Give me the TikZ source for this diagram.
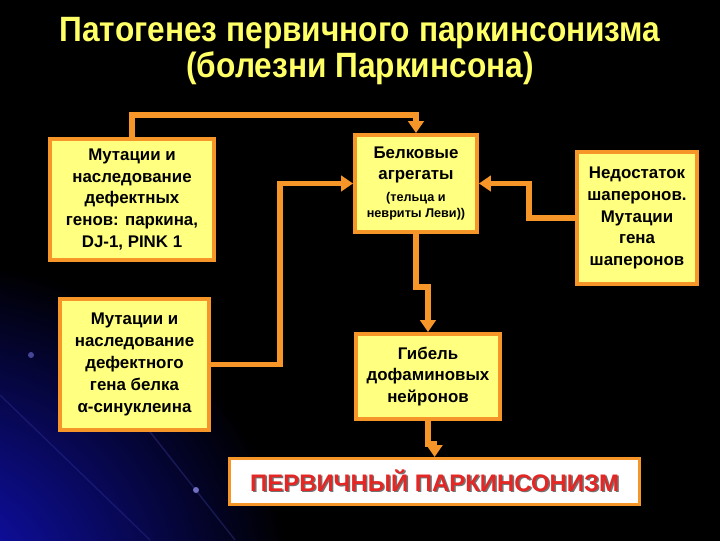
\documentclass[tikz,border=0pt]{standalone}
\usepackage{fontspec}
\setmainfont{Liberation Sans}
\usetikzlibrary{positioning,arrows.meta,calc}

\definecolor{boxfill}{RGB}{255,255,128}
\definecolor{boxline}{RGB}{246,150,40}
\definecolor{titlecol}{RGB}{255,255,102}
\definecolor{redtext}{RGB}{228,38,36}
\definecolor{glow}{RGB}{18,18,200}

\newcommand\dropshadow[1]{\makebox[0pt][l]{\hspace{1pt}\raisebox{-1pt}{\color{black!55}#1}}#1}

\tikzset{
  box/.style={draw=boxline, line width=2.8pt, fill=boxfill, anchor=north west,
    align=center, inner sep=1pt, font=\bfseries\fontsize{12}{15.5}\selectfont},
  endbox/.style={box, fill=white, line width=2.2pt},
  link/.style={draw=boxline, line width=3.6pt,
    -{Triangle[width=11pt,length=8.5pt]}}
}

\begin{document}
\begin{tikzpicture}[x=0.025cm, y=-0.025cm]
	\useasboundingbox (0,0) rectangle (720,540);
	%% background
	\fill[black] (-5,-5) rectangle (725,545);
	\begin{scope}
		\clip (-5,-5) rectangle (725,545);
		\shade[inner color=glow, outer color=black] (-70,590) ellipse (360 and 330);
		\draw[glow!70!white, opacity=0.25, line width=1pt] (70,330) -- (235,540);
		\draw[glow!70!white, opacity=0.2, line width=1pt] (0,395) -- (150,540);
		\fill[glow!60!white, opacity=0.6] (31,355) circle (3);
		\fill[glow!50!white, opacity=0.8] (196,490) circle (3);
	\end{scope}
	%% title
	\node[text=titlecol, align=center, font=\bfseries\fontsize{25}{26}\selectfont] (title) at (360,51)
		{\scalebox{0.9}[1]{Патогенез первичного паркинсонизма}\\ \scalebox{0.9}[1]{(болезни Паркинсона)}};
	%% boxes
	\node[box, minimum width=4.1cm, minimum height=3.025cm] (mut1) at (48,137)
		{Мутации и\\ наследование\\ дефектных\\ генов: паркина,\\ DJ-1, PINK 1};
	\node[box, minimum width=3.725cm, minimum height=3.275cm] (mut2) at (58,297)
		{Мутации и\\ наследование\\ дефектного\\ гена белка\\ α-синуклеина};
	\node[box, minimum width=3.05cm, minimum height=2.425cm] (agg) at (353,133)
		{Белковые\\ агрегаты\\ {\fontsize{9}{11}\selectfont (тельца и}\\[-4pt]
		 {\fontsize{9}{11}\selectfont невриты Леви))}};
	\node[box, minimum width=3.0cm, minimum height=3.3cm] (chap) at (575,150)
		{Недостаток\\ шаперонов.\\ Мутации\\ гена\\ шаперонов};
	\node[box, minimum width=3.6cm, minimum height=2.125cm] (neur) at (354,332)
		{Гибель\\ дофаминовых\\ нейронов};
	\node[endbox, minimum width=10.25cm, minimum height=1.15cm, text=redtext,
		font=\bfseries\fontsize{17}{19}\selectfont] (park) at (228,457)
		{\dropshadow{ПЕРВИЧНЫЙ ПАРКИНСОНИЗМ}};
	%% connectors
	\draw[link] (mut1.north) -- ++(0,-22) -| (agg.north);
	\draw[link] (mut2.east) -| ($(agg.west)+(-73,0)$) -- (agg.west);
	\draw[link] (chap.west) -| ($(agg.east)+(50,0)$) -- (agg.east);
	\draw[link] (agg.south) -- ++(0,53) -| (neur.north);
	\draw[link] (neur.south) -- ++(0,23) -| (park.north);
\end{tikzpicture}
\end{document}
